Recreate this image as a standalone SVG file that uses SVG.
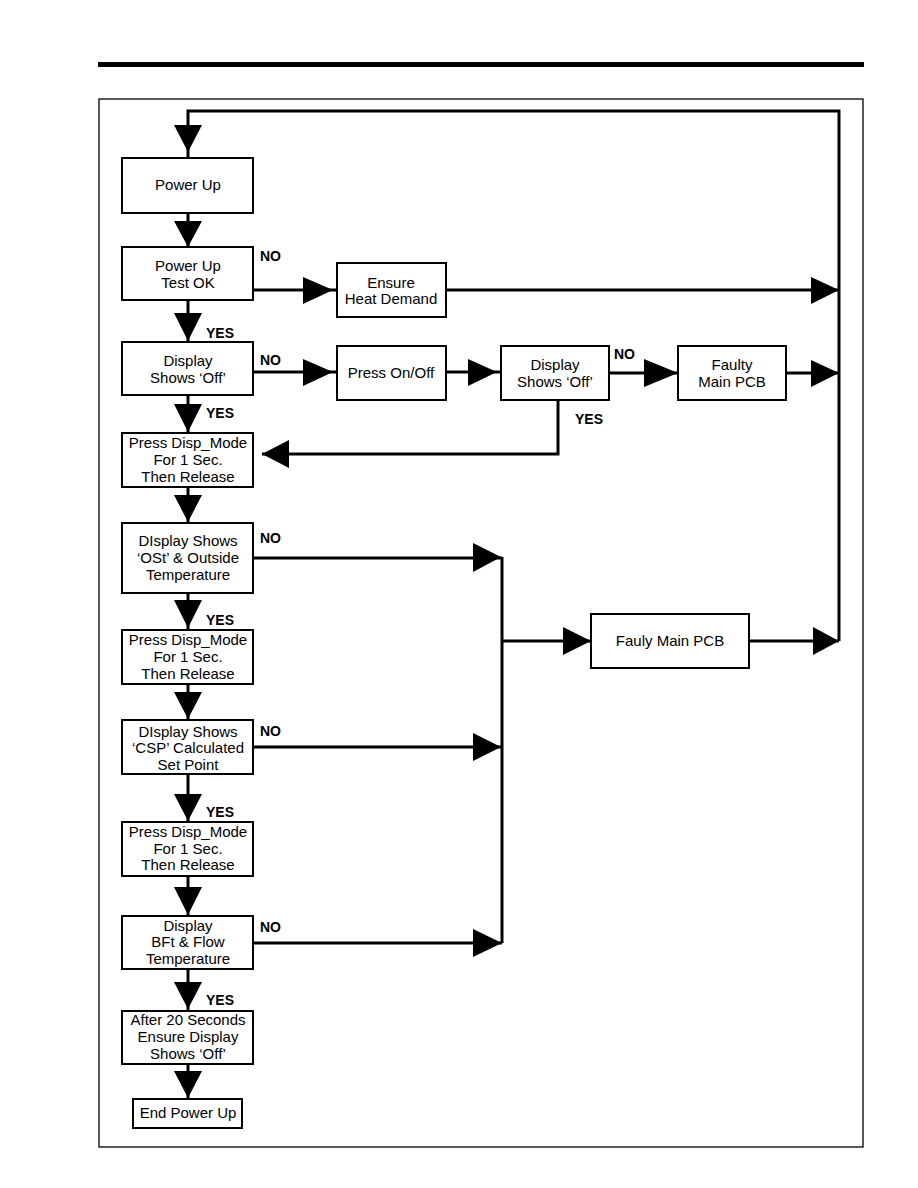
<svg xmlns="http://www.w3.org/2000/svg" width="918" height="1188" viewBox="0 0 918 1188">
<style>
.box{fill:#fff;stroke:#000;stroke-width:2}
.ln{fill:none;stroke:#000;stroke-width:3}
.ah{fill:#000;stroke:none}
.t{font-family:"Liberation Sans",Arial,sans-serif;font-size:15px;fill:#000;text-anchor:middle}
.lb{font-family:"Liberation Sans",Arial,sans-serif;font-size:14px;font-weight:bold;fill:#000}
</style>
<rect width="918" height="1188" fill="#fff"/>
<rect x="98" y="62" width="766" height="5" fill="#000"/>
<rect x="99" y="99" width="764" height="1048" fill="none" stroke="#000" stroke-width="1.3"/>
<g id="connectors">
<path class="ln" d="M839,641 V111 H188 V158"/>
<polygon class="ah" points="174,125 202,125 188,152"/>
<path class="ln" d="M188,213 V247"/><polygon class="ah" points="174,221 202,221 188,247"/>
<path class="ln" d="M188,300 V342"/><polygon class="ah" points="174,313 202,313 188,341"/>
<path class="ln" d="M188,395 V433"/><polygon class="ah" points="174,404 202,404 188,432"/>
<path class="ln" d="M188,487 V523"/><polygon class="ah" points="174,495 202,495 188,522"/>
<path class="ln" d="M188,593 V630"/><polygon class="ah" points="174,600 202,600 188,628"/>
<path class="ln" d="M188,684 V720"/><polygon class="ah" points="174,692 202,692 188,719"/>
<path class="ln" d="M188,774 V822"/><polygon class="ah" points="174,794 202,794 188,821"/>
<path class="ln" d="M188,876 V916"/><polygon class="ah" points="174,887 202,887 188,915"/>
<path class="ln" d="M188,969 V1011"/><polygon class="ah" points="174,982 202,982 188,1009"/>
<path class="ln" d="M188,1064 V1099"/><polygon class="ah" points="174,1071 202,1071 188,1098"/>
<path class="ln" d="M253,290 H337"/><polygon class="ah" points="303,277 303,304 333,290"/>
<path class="ln" d="M446,290 H839"/><polygon class="ah" points="811,277 811,304 839,290"/>
<path class="ln" d="M253,372 H337"/><polygon class="ah" points="303,359 303,386 333,372"/>
<path class="ln" d="M446,372 H501"/><polygon class="ah" points="468,359 468,386 497,372"/>
<path class="ln" d="M609,373 H678"/><polygon class="ah" points="644,359 644,387 678,373"/>
<path class="ln" d="M786,373 H839"/><polygon class="ah" points="811,360 811,387 839,373"/>
<path class="ln" d="M558,400 V454 H262"/><polygon class="ah" points="289,440 289,468 262,454"/>
<path class="ln" d="M253,558 H502"/><polygon class="ah" points="473,543 473,572 501,557"/>
<path class="ln" d="M253,747 H502"/><polygon class="ah" points="473,733 473,761 501,747"/>
<path class="ln" d="M253,943 H502"/><polygon class="ah" points="473,929 473,957 502,943"/>
<path class="ln" d="M502,557 V943"/>
<path class="ln" d="M502,641 H591"/><polygon class="ah" points="563,627 563,655 591,641"/>
<path class="ln" d="M749,641 H839"/><polygon class="ah" points="813,627 813,655 839,641"/>
<text class="lb" x="260" y="261">NO</text>
<text class="lb" x="206" y="338">YES</text>
<text class="lb" x="260" y="365">NO</text>
<text class="lb" x="206" y="418">YES</text>
<text class="lb" x="575" y="424">YES</text>
<text class="lb" x="614" y="359">NO</text>
<text class="lb" x="260" y="543">NO</text>
<text class="lb" x="206" y="625">YES</text>
<text class="lb" x="260" y="736">NO</text>
<text class="lb" x="206" y="817">YES</text>
<text class="lb" x="260" y="932">NO</text>
<text class="lb" x="206" y="1005">YES</text>
</g>
<g id="n1"><rect class="box" x="122" y="158" width="131" height="55"/><text class="t" x="188" y="190">Power Up</text></g>
<g id="n2"><rect class="box" x="122" y="247" width="131" height="53"/><text class="t" x="188" y="271">Power Up</text><text class="t" x="188" y="288">Test OK</text></g>
<g id="n3"><rect class="box" x="122" y="342" width="131" height="53"/><text class="t" x="188" y="366">Display</text><text class="t" x="188" y="383">Shows ‘Off’</text></g>
<g id="n4"><rect class="box" x="122" y="433" width="131" height="54"/><text class="t" x="188" y="448">Press Disp_Mode</text><text class="t" x="188" y="465">For 1 Sec.</text><text class="t" x="188" y="482">Then Release</text></g>
<g id="n5"><rect class="box" x="122" y="523" width="131" height="70"/><text class="t" x="188" y="546">DIsplay Shows</text><text class="t" x="188" y="563">‘OSt’ &amp; Outside</text><text class="t" x="188" y="580">Temperature</text></g>
<g id="n6"><rect class="box" x="122" y="630" width="131" height="54"/><text class="t" x="188" y="645">Press Disp_Mode</text><text class="t" x="188" y="662">For 1 Sec.</text><text class="t" x="188" y="679">Then Release</text></g>
<g id="n7"><rect class="box" x="122" y="720" width="131" height="54"/><text class="t" x="188" y="737">DIsplay Shows</text><text class="t" x="188" y="753">‘CSP’ Calculated</text><text class="t" x="188" y="770">Set Point</text></g>
<g id="n8"><rect class="box" x="122" y="822" width="131" height="54"/><text class="t" x="188" y="837">Press Disp_Mode</text><text class="t" x="188" y="854">For 1 Sec.</text><text class="t" x="188" y="870">Then Release</text></g>
<g id="n9"><rect class="box" x="122" y="916" width="131" height="53"/><text class="t" x="188" y="931">Display</text><text class="t" x="188" y="947">BFt &amp; Flow</text><text class="t" x="188" y="964">Temperature</text></g>
<g id="n10"><rect class="box" x="122" y="1011" width="131" height="53"/><text class="t" x="188" y="1025">After 20 Seconds</text><text class="t" x="188" y="1042">Ensure Display</text><text class="t" x="188" y="1059">Shows ‘Off’</text></g>
<g id="n11"><rect class="box" x="133" y="1099" width="109" height="29" stroke-width="2.5"/><text class="t" x="188" y="1118">End Power Up</text></g>
<g id="n12"><rect class="box" x="337" y="263" width="109" height="54"/><text class="t" x="391" y="288">Ensure</text><text class="t" x="391" y="304">Heat Demand</text></g>
<g id="n13"><rect class="box" x="337" y="346" width="109" height="54"/><text class="t" x="391" y="378">Press On/Off</text></g>
<g id="n14"><rect class="box" x="501" y="346" width="108" height="54"/><text class="t" x="555" y="370">Display</text><text class="t" x="555" y="387">Shows ‘Off’</text></g>
<g id="n15"><rect class="box" x="678" y="346" width="108" height="54"/><text class="t" x="732" y="370">Faulty</text><text class="t" x="732" y="387">Main PCB</text></g>
<g id="n16"><rect class="box" x="591" y="614" width="158" height="54"/><text class="t" x="670" y="646">Fauly Main PCB</text></g>
</svg>
